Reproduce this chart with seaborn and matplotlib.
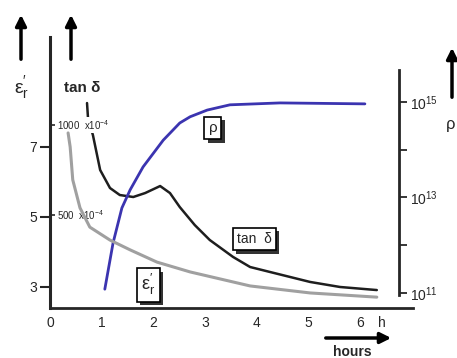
import numpy as np
import pandas as pd
import matplotlib
matplotlib.use('Agg')
import matplotlib.pyplot as plt
import matplotlib.patheffects as pe
import matplotlib.transforms as mtransforms
from matplotlib.patches import FancyArrowPatch
import seaborn as sns

# curves (x in hours)
eps_h = [0.35, 0.39, 0.44, 0.58, 0.77, 1.16, 1.55, 2.07, 2.71, 3.87, 5.03, 6.32]
eps_r = [7.4, 7.0, 6.06, 5.26, 4.71, 4.34, 4.06, 3.71, 3.43, 3.03, 2.83, 2.71]

tan_h = [0.716, 0.735, 0.83, 0.97, 1.16, 1.35, 1.61, 1.84, 2.13, 2.32, 2.51, 2.80,
         3.09, 3.54, 3.87, 4.26, 5.03, 5.61, 6.32]
tan_d = [1122, 1039, 944, 750, 650, 611, 600, 622, 661, 622, 544, 444,
         361, 267, 211, 183, 128, 100, 83]          # x 10^-4

rho_h = [1.06, 1.22, 1.39, 1.55, 1.80, 2.19, 2.51, 2.71, 3.04, 3.48, 4.45, 6.09]
rho_log = [11.08, 12.05, 12.78, 13.16, 13.64, 14.20, 14.56, 14.69, 14.83, 14.94, 14.98, 14.96]

x_ticks = [0, 1, 2, 3, 4, 5, 6]
eps_ticks = [3, 5, 7]
tan_ticks = [500, 1000]
rho_ticks = [11, 12, 13, 14, 15]
rho_labels = ['10$^{11}$', '', '10$^{13}$', '', '10$^{15}$']

sns.set_style('ticks')
plt.rcParams['font.family'] = ['Liberation Sans', 'DejaVu Sans']
plt.rcParams['mathtext.default'] = 'regular'

fig = plt.figure(figsize=(4.57, 3.58), dpi=100)
ax = fig.add_axes([50/457, 50/358, 363/457, 271/358])

# permittivity (grey)
df_eps = pd.DataFrame({'h': eps_h, 'v': eps_r})
sns.lineplot(data=df_eps, x='h', y='v', ax=ax, color='#a0a0a0', lw=2.2, zorder=2)
ax.set_xlim(0, 7.02)
ax.set_ylim(2.4, 10.14)
ax.set_xticks(x_ticks)
ax.set_yticks(eps_ticks)
ax.set_xlabel('')
ax.set_ylabel('')
for s in ['top', 'right']:
    ax.spines[s].set_visible(False)
ax.spines['left'].set_linewidth(2.2)
ax.spines['bottom'].set_linewidth(2)
ax.tick_params(axis='x', length=0, pad=6, labelsize=10)
ax.tick_params(axis='y', length=7, width=1.5, pad=2, labelsize=10)
ax.annotate('h', xy=(6.42, 0), xycoords=('data', 'axes fraction'),
            xytext=(0, -6), textcoords='offset points', ha='center', va='top', fontsize=10)

# tan delta axis (ticks inside the left spine)
ax2 = ax.twinx()
df_tan = pd.DataFrame({'h': tan_h, 'v': tan_d})
sns.lineplot(data=df_tan, x='h', y='v', ax=ax2, color='#1e1e1e', lw=1.8)
ax2.set_ylim(-16.7, 1489)
ax2.set_ylabel('')
for s in ax2.spines.values():
    s.set_visible(False)
ax2.set_yticks(tan_ticks)
ax2.tick_params(axis='y', left=True, right=False, labelleft=False, labelright=False,
                direction='in', length=6, width=1.2)
blend = mtransforms.blended_transform_factory(ax2.transAxes, ax2.transData)
for v, lab in zip(tan_ticks, ['500  x10$^{-4}$', '1000  x10$^{-4}$']):
    ax2.text(0.018, v, lab, transform=blend, ha='left', va='center', fontsize=7,
             bbox=dict(facecolor='white', edgecolor='none', pad=1), zorder=5)

# resistivity axis (log10 values, spine pulled in from the right)
ax3 = ax.twinx()
df_rho = pd.DataFrame({'h': rho_h, 'v': rho_log})
sns.lineplot(data=df_rho, x='h', y='v', ax=ax3, color='#3b34b0', lw=2)
ax3.set_ylim(10.686, 16.36)
ax3.set_ylabel('')
for s in ['top', 'left', 'bottom']:
    ax3.spines[s].set_visible(False)
ax3.spines['right'].set_position(('data', 6.75))
ax3.spines['right'].set_bounds(10.96, 15.67)
ax3.spines['right'].set_linewidth(2)
ax3.set_yticks(rho_ticks)
ax3.set_yticklabels(rho_labels)
ax3.tick_params(axis='y', length=6, width=1.3, pad=2, labelsize=10)
ax.set_zorder(3)
ax.patch.set_visible(False)

# boxed curve labels with drop shadow
shadow = [pe.SimplePatchShadow(offset=(2.5, -2.5), shadow_rgbFace='#333333', alpha=1), pe.Normal()]
for hx, ey, lab, fs in [(3.15, 7.54, 'ρ', 11), (1.9, 3.06, r"ε$_r^{\prime}$", 13),
                        (3.95, 4.37, 'tan  δ', 10)]:
    t = ax.text(hx, ey, lab, ha='center', va='center', fontsize=fs, zorder=6,
                bbox=dict(facecolor='white', edgecolor='black', lw=1.2, pad=3))
    t.get_bbox_patch().set_path_effects(shadow)

# axis arrows and titles outside the frame
arrow = dict(arrowstyle='-|>', lw=2.5, color='black', mutation_scale=16)
for x0, y0, x1, y1 in [(21, 296, 21, 346), (71, 296, 71, 346), (452, 258, 452, 313),
                       (323, 20, 394, 20)]:
    fig.add_artist(FancyArrowPatch((x0 / 457, y0 / 358), (x1 / 457, y1 / 358),
                                   transform=fig.transFigure, **arrow))
fig.text(22 / 457, 1 - 88 / 358, r"ε$_r^{\prime}$", ha='center', va='center', fontsize=14)
fig.text(82 / 457, 1 - 88 / 358, 'tan δ', ha='center', va='center', fontsize=11, fontweight='bold')
fig.text(446 / 457, 1 - 125 / 358, 'ρ', ha='left', va='center', fontsize=12)
fig.text(352 / 457, 1 - 352 / 358, 'hours', ha='center', va='center', fontsize=10, fontweight='bold')

fig.savefig('out.png', dpi=100)
